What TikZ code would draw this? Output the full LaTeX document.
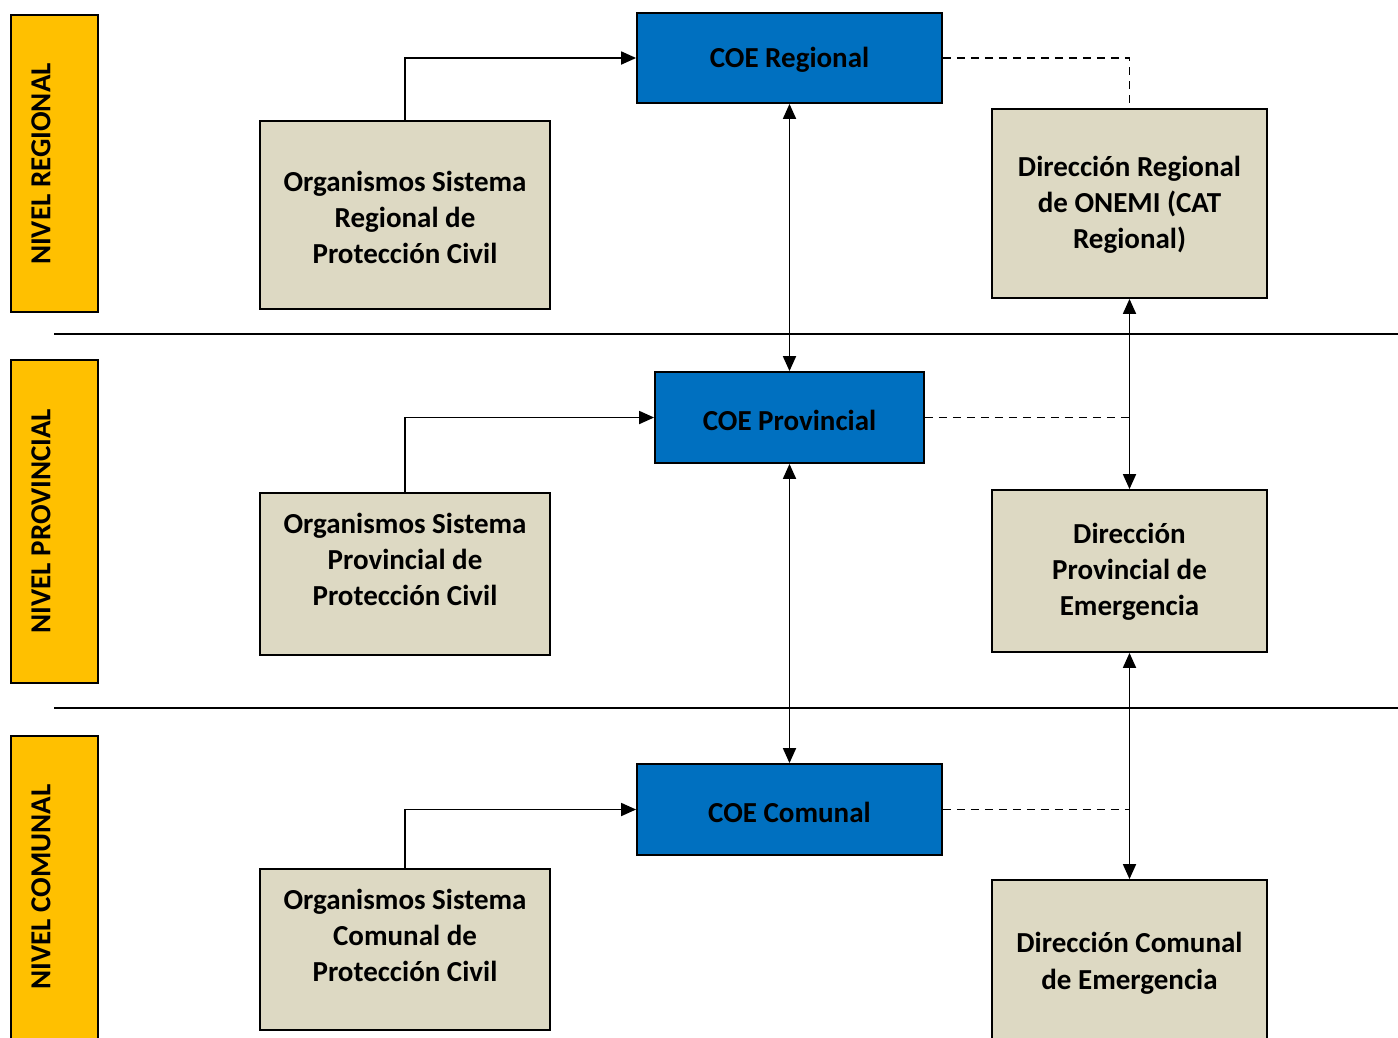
\documentclass[tikz,border=0pt]{standalone}
\usepackage{fontspec}
\setmainfont{Carlito}
\usetikzlibrary{arrows.meta}
\definecolor{nivel}{HTML}{FFC000}
\definecolor{coe}{HTML}{0070C0}
\definecolor{org}{HTML}{DDD9C3}
\tikzset{
  nivelbox/.style={draw=black, line width=1.8pt, fill=nivel, inner sep=0pt},
  coebox/.style={draw=black, line width=1.8pt, fill=coe, inner sep=0pt},
  orgbox/.style={draw=black, line width=1.8pt, fill=org, inner sep=0pt},
  boxtext/.style={align=center, inner sep=0pt, font=\fontsize{29}{36}\selectfont\bfseries},
  tip/.style={Triangle[length=15pt,width=13pt]},
  conn/.style={line width=1.8pt, -{Triangle[length=15pt,width=13pt]}},
  bconn/.style={line width=1.8pt, {Triangle[length=15pt,width=13pt]}-{Triangle[length=15pt,width=13pt]}},
  dconn/.style={line width=1.8pt, dash pattern=on 8pt off 6pt},
  sepline/.style={line width=1.8pt},
  nivtext/.style={rotate=90, inner sep=0pt, font=\fontsize{29}{32}\selectfont\bfseries}
}
\begin{document}
\begin{tikzpicture}[x=1pt,y=-1pt]
\useasboundingbox (0,0) rectangle (1398,1037);
\clip (0,0) rectangle (1398,1037);
% nivel boxes
\node[nivelbox, minimum width=87pt, minimum height=297pt] (nr) at (54.5,163.5) {};
\node[nivtext] (nrt) at (41,164) {NIVEL REGIONAL};
\node[nivelbox, minimum width=87pt, minimum height=323pt] (np) at (54.5,521.5) {};
\node[nivtext] (npt) at (41,521) {NIVEL PROVINCIAL};
\node[nivelbox, minimum width=87pt, minimum height=320pt] (nc) at (54.5,896) {};
\node[nivtext] (nct) at (41,887) {NIVEL COMUNAL};
% separators
\coordinate (s1a) at (54,334); \coordinate (s1b) at (1398,334);
\coordinate (s2a) at (54,708); \coordinate (s2b) at (1398,708);
\draw[sepline] (s1a) -- (s1b);
\draw[sepline] (s2a) -- (s2b);
% COE boxes
\node[coebox, minimum width=305pt, minimum height=90pt] (cr) at (789.5,58) {};
\node[boxtext] (crt) at (789.5,60) {COE Regional};
\node[coebox, minimum width=269pt, minimum height=91pt] (cp) at (789.5,417.5) {};
\node[boxtext] (cpt) at (789.5,420) {COE Provincial};
\node[coebox, minimum width=305pt, minimum height=91pt] (cc) at (789.5,809.5) {};
\node[boxtext] (cct) at (789.5,812) {COE Comunal};
% organismos
\node[orgbox, minimum width=290pt, minimum height=188pt] (or) at (405,215) {};
\node[boxtext] (ort) at (405,217) {Organismos Sistema\\Regional de\\Protección Civil};
\node[orgbox, minimum width=290pt, minimum height=162pt] (op) at (405,574) {};
\node[boxtext] (opt) at (405,559) {Organismos Sistema\\Provincial de\\Protección Civil};
\node[orgbox, minimum width=290pt, minimum height=161pt] (oc) at (405,949.5) {};
\node[boxtext] (oct) at (405,935) {Organismos Sistema\\Comunal de\\Protección Civil};
% direcciones
\node[orgbox, minimum width=275pt, minimum height=189pt] (dr) at (1129.5,203.5) {};
\node[boxtext] (drt) at (1129.5,205) {Dirección Regional\\de ONEMI (CAT\\Regional)};
\node[orgbox, minimum width=275pt, minimum height=162pt] (dp) at (1129.5,571) {};
\node[boxtext] (dpt) at (1129.5,572) {Dirección\\Provincial de\\Emergencia};
\node[orgbox, minimum width=275pt, minimum height=164pt] (dc) at (1129.5,962) {};
\node[boxtext, font=\fontsize{29}{37}\selectfont\bfseries] (dct) at (1129.5,963) {Dirección Comunal\\de Emergencia};
% connectors
\draw[conn] (or.north) |- (cr.west);
\draw[conn] (op.north) |- (cp.west);
\draw[conn] (oc.north) |- (cc.west);
\draw[bconn] (cr.south) -- (cp.north);
\draw[bconn] (cp.south) -- (cc.north);
\draw[bconn] (dr.south) -- (dp.north);
\draw[bconn] (dp.south) -- (dc.north);
\draw[dconn] (cr.east) -| (dr.north);
\coordinate (dpj) at (1129.5,417.5);
\coordinate (dcj) at (1129.5,809.5);
\draw[dconn] (cp.east) -- (dpj);
\draw[dconn] (cc.east) -- (dcj);
\end{tikzpicture}
\end{document}
